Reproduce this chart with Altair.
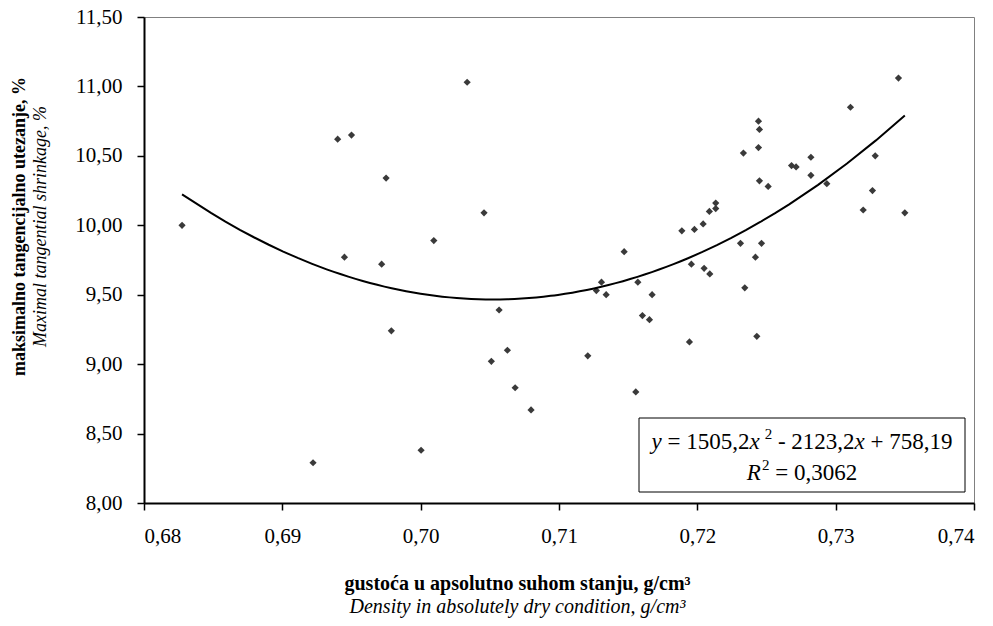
import altair as alt
import pandas as pd

# ---------------- data ----------------
density = [0.68275, 0.69400, 0.69500, 0.69750, 0.70336, 0.70458, 0.70095, 0.69449, 0.69718, 0.70567,
           0.69788, 0.70627, 0.70511, 0.70683, 0.70798, 0.70003, 0.69222,
           0.73454, 0.73107, 0.72442, 0.72449, 0.72442, 0.72333, 0.72821, 0.73286, 0.72681, 0.72714,
           0.72821, 0.72449, 0.72512, 0.72936, 0.73266, 0.73199, 0.73500, 0.72133, 0.72087, 0.72133,
           0.72042, 0.71979, 0.71888, 0.71471, 0.72312, 0.72464, 0.72420, 0.71957, 0.72049, 0.72090,
           0.71307, 0.71270, 0.71341, 0.71570, 0.71673, 0.72343, 0.71603, 0.71654,
           0.71208, 0.71943, 0.72430, 0.71555]
shrinkage = [10.00, 10.62, 10.65, 10.34, 11.03, 10.09, 9.89, 9.77, 9.72, 9.39,
             9.24, 9.10, 9.02, 8.83, 8.67, 8.38, 8.29,
             11.06, 10.85, 10.75, 10.69, 10.56, 10.52, 10.49, 10.50, 10.43, 10.42,
             10.36, 10.32, 10.28, 10.30, 10.25, 10.11, 10.09, 10.16, 10.10, 10.12,
             10.01, 9.97, 9.96, 9.81, 9.87, 9.87, 9.77, 9.72, 9.69, 9.65,
             9.59, 9.53, 9.50, 9.59, 9.50, 9.55, 9.35, 9.32,
             9.06, 9.16, 9.20, 8.80]

x_ticks = [0.68, 0.69, 0.70, 0.71, 0.72, 0.73, 0.74]
y_ticks = [8.0, 8.5, 9.0, 9.5, 10.0, 10.5, 11.0, 11.5]

x_title_hr = "gustoća u apsolutno suhom stanju, g/cm³"
x_title_en = "Density in absolutely dry condition, g/cm³"
y_title_hr = "maksimalno tangencijalno utezanje, %"
y_title_en = "Maximal tangential shrinkage, %"

coef_a = "1505,2"
coef_b = "2123,2"
coef_c = "758,19"
r2_text = "0,3062"

df = pd.DataFrame({"density": density, "shrinkage": shrinkage})

# ---------------- layout / style ----------------
FONT = "Liberation Serif"
W, H = 830, 486
comma_fmt = "replace(format(datum.value, '.2f'), '.', ',')"
x_scale = alt.Scale(domain=[0.68, 0.74], nice=False, zero=False)
y_scale = alt.Scale(domain=[8.0, 11.5], nice=False, zero=False)

base = alt.Chart(df)

points = base.mark_point(shape="diamond", filled=True, size=52, color="#3a3a3a", opacity=1).encode(
    x=alt.X("density:Q", scale=x_scale, axis=alt.Axis(
        orient="bottom", values=x_ticks, labelExpr=comma_fmt, grid=False,
        tickSize=7, labelPadding=15, labelFontSize=21, labelFont=FONT,
        title=x_title_hr, titleFont=FONT, titleFontSize=20, titleFontWeight="bold",
        titleX=373, titleY=80, titleAlign="center", titleBaseline="middle")),
    y=alt.Y("shrinkage:Q", scale=y_scale, axis=alt.Axis(
        orient="left", values=y_ticks, labelExpr=comma_fmt, grid=False,
        tickSize=7, labelPadding=15, labelFontSize=21, labelFont=FONT,
        title=y_title_hr, titleFont=FONT, titleFontSize=18, titleFontWeight="bold",
        titleAngle=270, titleX=-125, titleY=209, titleAlign="center", titleBaseline="middle")),
)

trend = base.transform_regression("density", "shrinkage", method="poly", order=2).mark_line(
    color="black", strokeWidth=2).encode(
    x=alt.X("density:Q", scale=x_scale, axis=alt.Axis(
        orient="bottom", labels=False, ticks=False, domain=False, grid=False,
        title=x_title_en, titleFont=FONT, titleFontSize=20, titleFontWeight="normal",
        titleFontStyle="italic", titleX=373, titleY=103, titleAlign="center", titleBaseline="middle")),
    y=alt.Y("shrinkage:Q", scale=y_scale, axis=alt.Axis(
        orient="left", labels=False, ticks=False, domain=False, grid=False,
        title=y_title_en, titleFont=FONT, titleFontSize=18, titleFontWeight="normal",
        titleFontStyle="italic", titleAngle=270, titleX=-104, titleY=209,
        titleAlign="center", titleBaseline="middle")),
)

# ---------------- equation box (annotation) ----------------
one = alt.Chart(pd.DataFrame({"k": [0]}))
box_x0, box_x1, box_y0, box_y1 = 495, 821, 401, 475
box = one.mark_rect(fill="white", stroke="black", strokeWidth=1).encode(
    x=alt.value(box_x0), x2=alt.value(box_x1), y=alt.value(box_y0), y2=alt.value(box_y1))

W_REG = {",": .25, " ": .25, "=": .564, "+": .564, "-": .333}
W_IT = {"x": .444, "y": .444, "R": .611}


def text_width(t, size, italic):
    tot = 0.0
    for ch in t:
        if italic and ch in W_IT:
            tot += W_IT[ch]
        else:
            tot += W_REG.get(ch, .5)
    return tot * size


S, SUP = 23, 15
SP = 0.25 * S
# (text, italic, size, rise, gap before)
line1 = [("y", True, S, 0, 0), ("= " + coef_a, False, S, 0, SP), ("x", True, S, 0, 0),
         ("2", False, SUP, -10, 5), ("- " + coef_b, False, S, 0, SP), ("x", True, S, 0, 0),
         ("+ " + coef_c, False, S, 0, SP)]
line2 = [("R", True, S, 0, 0), ("2", False, SUP, -10, 1), ("= " + r2_text, False, S, 0, SP)]

cx = (box_x0 + box_x1) / 2
texts = []
for pieces, base_y in [(line1, 432), (line2, 463)]:
    total = sum(text_width(t, s, it) + gap for t, it, s, rise, gap in pieces)
    xpos = cx - total / 2
    for t, it, s, rise, gap in pieces:
        xpos += gap
        texts.append(one.mark_text(
            text=t, font=FONT, fontSize=s, fontStyle="italic" if it else "normal",
            align="left", baseline="alphabetic", color="black").encode(
            x=alt.value(xpos), y=alt.value(base_y + rise)))
        xpos += text_width(t, s, it)

chart = alt.layer(points, trend, box, *texts).resolve_axis(
    x="independent", y="independent").properties(
    width=W, height=H,
    autosize=alt.AutoSizeParams(type="none"),
    padding={"left": 144, "top": 17, "right": 19, "bottom": 123},
    background="white",
).configure_view(stroke="#808080", strokeWidth=1).configure_axis(
    domainColor="black", domainWidth=2, tickColor="black", tickWidth=1.5,
    labelColor="black", titleColor="black", labelFont=FONT, titleFont=FONT)

chart.save("out.html", embed_options={"renderer": "svg", "actions": False})
